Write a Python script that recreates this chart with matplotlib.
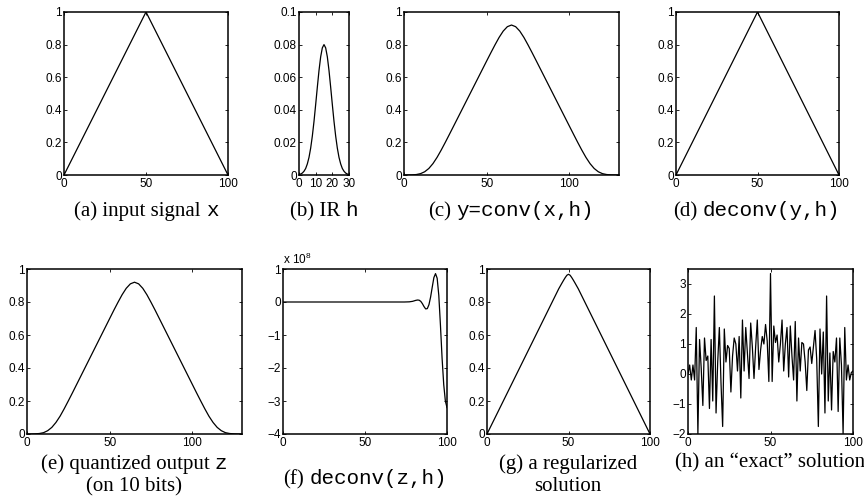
import matplotlib
matplotlib.use('Agg')
import matplotlib.pyplot as plt
import numpy as np
from matplotlib.ticker import FuncFormatter
from matplotlib.offsetbox import TextArea, HPacker, VPacker, AnnotationBbox

plt.rcParams['font.family'] = ['Liberation Sans', 'DejaVu Sans']
plt.rcParams['mathtext.fontset'] = 'custom'
plt.rcParams['mathtext.rm'] = 'Liberation Sans'

# (a), (d): input triangle
tri_t = [0, 50, 100]
tri_v = [0, 1, 0]

# (b): impulse response h (0..30)
h_t = list(range(31))
h_v = [0.0003, 0.0006, 0.0012, 0.0023, 0.0040, 0.0068, 0.0108, 0.0165, 0.0239, 0.0329,
       0.0432, 0.0539, 0.0641, 0.0725, 0.0780, 0.0800, 0.0780, 0.0725, 0.0641, 0.0539,
       0.0432, 0.0329, 0.0239, 0.0165, 0.0108, 0.0068, 0.0040, 0.0023, 0.0012, 0.0006, 0.0003]

# (c): y = conv(x, h), sampled every 2.5
y_t = np.arange(0, 130.1, 2.5)
y_v = [0.0, 0.0002, 0.0008, 0.0029, 0.0083, 0.0198, 0.0399, 0.0698, 0.1083, 0.153,
       0.2008, 0.2502, 0.300, 0.350, 0.400, 0.450, 0.500, 0.550, 0.600, 0.650,
       0.700, 0.7496, 0.798, 0.844, 0.883, 0.910, 0.920, 0.910, 0.883, 0.844,
       0.798, 0.7496, 0.700, 0.650, 0.600, 0.550, 0.500, 0.450, 0.400, 0.350,
       0.300, 0.2502, 0.2008, 0.153, 0.1083, 0.0698, 0.0399, 0.0198, 0.0083, 0.0029,
       0.0008, 0.0002, 0.0]

# (e): quantized output z (10 bits) - visually identical to y
z_v = [0.0, 0.0, 0.001, 0.003, 0.008, 0.020, 0.040, 0.070, 0.108, 0.153,
       0.201, 0.250, 0.300, 0.350, 0.400, 0.450, 0.500, 0.550, 0.600, 0.650,
       0.700, 0.750, 0.798, 0.844, 0.883, 0.910, 0.920, 0.910, 0.883, 0.844,
       0.798, 0.750, 0.700, 0.650, 0.600, 0.550, 0.500, 0.450, 0.400, 0.350,
       0.300, 0.250, 0.201, 0.153, 0.108, 0.070, 0.040, 0.020, 0.008, 0.003,
       0.001, 0.0, 0.0]

# (f): deconv(z, h), in units of 1e8
f_t = [0, 74, 77, 79, 81, 82, 83, 84, 85, 86, 87, 88, 89, 90, 91, 92, 93, 94, 95, 96, 97, 98, 99, 100]
f_v = [0, 0, 0.005, 0.02, 0.05, 0.06, 0.055, 0.02, -0.05, -0.14, -0.21, -0.2, -0.08, 0.15,
       0.45, 0.74, 0.86, 0.72, 0.2, -0.7, -1.7, -2.5, -3.0, -3.2]

# (g): regularized solution
g_t = [0, 10, 20, 30, 40, 44, 46, 47, 48, 49, 50, 51, 52, 53, 54, 56, 60, 70, 80, 90, 100]
g_v = [0, 0.2, 0.4, 0.6, 0.8, 0.88, 0.915, 0.932, 0.948, 0.962, 0.968, 0.962, 0.948, 0.932,
       0.915, 0.88, 0.8, 0.6, 0.4, 0.2, 0]

# (h): "exact" solution
ex_t = list(range(101))
ex_v = [0.0, 0.3, -0.2, 0.3, -0.2, 1.55, -2.0, 1.15, 0.2, -1.05,
        1.2, 0.45, 0.6, -1.15, 1.15, -0.9, 2.6, -1.3, 0.4, 1.55,
        -0.3, -1.75, 1.5, 0.4, 0.95, 0.85, -0.6, 0.6, 1.2, 1.0,
        0.1, 1.25, -0.8, 1.8, 0.1, 1.55, 0.7, -0.15, 1.7, 0.9,
        -0.15, 0.9, 1.8, 0.15, 0.8, 1.25, 1.0, 1.65, 1.1, -0.25,
        3.35, -0.25, 1.6, 1.05, 1.3, 0.4, 1.0, 1.8, 0.1, 1.0,
        1.55, -0.1, 1.6, 0.6, -0.2, 1.75, -0.9, 1.2, 0.1, 1.05,
        1.0, 0.4, -0.55, 0.8, 0.9, 0.35, 0.9, 1.45, 0.5, -1.75,
        1.5, 0.0, 1.4, -1.3, 2.6, -0.9, 0.7, -1.2, 0.75, 0.4,
        1.2, -1.25, 1.2, 0.3, -2.0, 1.55, -0.2, 0.3, -0.2, 0.05, 0.1]

W, H = 864, 504
fig = plt.figure(figsize=(W / 100, H / 100), dpi=100)

fmt = FuncFormatter(lambda v, p: ('%g' % v).replace('-', '\u2212'))


def panel(l, t, r, b):
    ax = fig.add_axes([l / W, 1 - b / H, (r - l) / W, (b - t) / H])
    ax.tick_params(direction='in', top=True, right=True, length=2.5, width=0.6,
                   labelsize=8.5)
    ax.tick_params(axis='x', pad=2.5)
    ax.tick_params(axis='y', pad=1.5)
    for s in ax.spines.values():
        s.set_linewidth(1.1)
    ax.xaxis.set_major_formatter(fmt)
    ax.yaxis.set_major_formatter(fmt)
    return ax


lw = 0.9
unit_ticks = [0, 0.2, 0.4, 0.6, 0.8, 1]

ax = panel(64, 12, 228, 175)
ax.plot(tri_t, tri_v, 'k', lw=lw)
ax.set_xlim(0, 100); ax.set_ylim(0, 1)
ax.set_xticks([0, 50, 100]); ax.set_yticks(unit_ticks)

ax = panel(299, 12, 349, 175)
ax.plot(h_t, h_v, 'k', lw=lw)
ax.set_xlim(0, 30); ax.set_ylim(0, 0.1)
ax.set_xticks([0, 10, 20, 30]); ax.set_yticks([0, 0.02, 0.04, 0.06, 0.08, 0.1])

ax = panel(404, 12, 619, 175)
ax.plot(y_t, y_v, 'k', lw=lw)
ax.set_xlim(0, 130); ax.set_ylim(0, 1)
ax.set_xticks([0, 50, 100]); ax.set_yticks(unit_ticks)

ax = panel(676, 12, 839, 175)
ax.plot(tri_t, tri_v, 'k', lw=lw)
ax.set_xlim(0, 100); ax.set_ylim(0, 1)
ax.set_xticks([0, 50, 100]); ax.set_yticks(unit_ticks)

ax = panel(27, 269, 242, 434)
ax.plot(y_t, z_v, 'k', lw=lw)
ax.set_xlim(0, 130); ax.set_ylim(0, 1)
ax.set_xticks([0, 50, 100]); ax.set_yticks(unit_ticks)

ax = panel(283, 269, 447, 434)
ax.plot(f_t, f_v, 'k', lw=lw)
ax.set_xlim(0, 100); ax.set_ylim(-4, 1)
ax.set_xticks([0, 50, 100]); ax.set_yticks([-4, -3, -2, -1, 0, 1])
ax.text(0.0, 1.01, 'x 10$^{8}$', transform=ax.transAxes, fontsize=8.5,
        ha='left', va='bottom')

ax = panel(487, 269, 650, 434)
ax.plot(g_t, g_v, 'k', lw=lw)
ax.set_xlim(0, 100); ax.set_ylim(0, 1)
ax.set_xticks([0, 50, 100]); ax.set_yticks(unit_ticks)

ax = panel(688, 269, 853, 434)
ax.plot(ex_t, ex_v, 'k', lw=lw)
ax.set_xlim(0, 100); ax.set_ylim(-2, 3.5)
ax.set_xticks([0, 50, 100]); ax.set_yticks([-2, -1, 0, 1, 2, 3])

# captions: serif text mixed with monospace code
serif = dict(family='Liberation Serif', size=15)
mono = dict(family='Liberation Mono', size=15)


def caption(lines, xc, yc):
    rows = []
    for parts in lines:
        kids = [TextArea(s, textprops=serif if k == 's' else mono) for k, s in parts]
        rows.append(HPacker(children=kids, align='baseline', pad=0, sep=3.75))
    box = VPacker(children=rows, align='center', pad=0, sep=2)
    ab = AnnotationBbox(box, (xc, H - yc), xycoords='figure pixels',
                        box_alignment=(0.5, 0.5), frameon=False, pad=0)
    fig.add_artist(ab)


caption([[('s', '(a) input signal'), ('m', 'x')]], 146, 211)
caption([[('s', '(b) IR'), ('m', 'h')]], 324, 211)
caption([[('s', '(c)'), ('m', 'y=conv(x,h)')]], 511, 211)
caption([[('s', '(d)'), ('m', 'deconv(y,h)')]], 757, 211)
caption([[('s', '(e) quantized output'), ('m', 'z')], [('s', '(on 10 bits)')]], 134, 475)
caption([[('s', '(f)'), ('m', 'deconv(z,h)')]], 365, 479)
caption([[('s', '(g) a regularized')], [('s', 'solution')]], 568, 475)
caption([[('s', '(h) an \u201cexact\u201d solution')]], 770, 463)

fig.savefig('out.png', dpi=100)
